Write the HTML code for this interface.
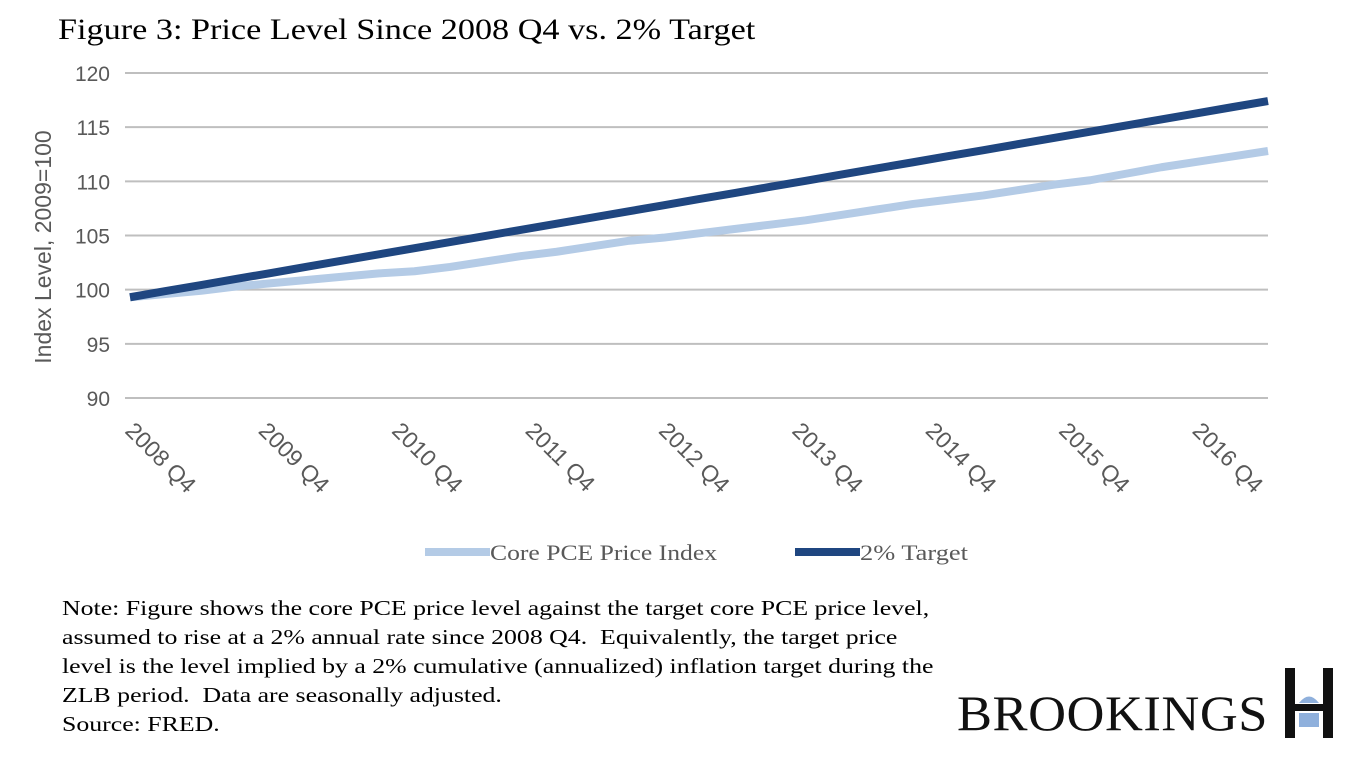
<!DOCTYPE html>
<html><head><meta charset="utf-8"><style>
body{margin:0;background:#fff;width:1371px;height:762px;overflow:hidden;position:relative}
.serif{font-family:"Liberation Serif",serif}
</style></head><body>
<div class="serif" style="position:absolute;left:58px;top:13px;font-size:30px;color:#000;transform-origin:0 0;transform:scaleX(1.14);white-space:nowrap">Figure 3: Price Level Since 2008 Q4 vs. 2% Target</div>
<svg id="chart" width="1371" height="600" style="position:absolute;left:0;top:0" font-family="Liberation Sans, sans-serif"></svg>
<div class="serif" style="position:absolute;left:62px;top:594px;font-size:21.5px;line-height:29px;color:#000;transform-origin:0 0;transform:scaleX(1.2);white-space:nowrap">Note: Figure shows the core PCE price level against the target core PCE price level,<br>assumed to rise at a 2% annual rate since 2008 Q4.&nbsp; Equivalently, the target price<br>level is the level implied by a 2% cumulative (annualized) inflation target during the<br>ZLB period.&nbsp; Data are seasonally adjusted.<br>Source: FRED.</div>
<div class="serif" style="position:absolute;left:957px;top:688px;font-size:50px;line-height:50px;color:#111;letter-spacing:0.5px;transform-origin:0 0;transform:scaleX(1.05);white-space:nowrap">BROOKINGS</div>
<svg width="60" height="80" style="position:absolute;left:1283px;top:666px">
<rect x="2" y="2" width="10" height="70" fill="#111"/><rect x="40" y="2" width="10" height="70" fill="#111"/>
<rect x="12" y="38" width="28" height="7" fill="#111"/>
<path d="M16 37 Q26 24 36 37Z" fill="#8fb0dc"/><rect x="16" y="47" width="20" height="14" fill="#8fb0dc"/>
</svg>
<script>
const yTicks=[90,95,100,105,110,115,120];
const xLabels=["2008 Q4","2009 Q4","2010 Q4","2011 Q4","2012 Q4","2013 Q4","2014 Q4","2015 Q4","2016 Q4"];
const corePCE=[99.3,99.6,99.9,100.3,100.6,100.9,101.2,101.5,101.7,102.1,102.6,103.1,103.5,104.0,104.5,104.8,105.2,105.6,106.0,106.4,106.9,107.4,107.9,108.3,108.7,109.2,109.7,110.1,110.7,111.3,111.8,112.3,112.8];
const target=[99.30,99.87,100.43,101.00,101.56,102.13,102.70,103.26,103.83,104.39,104.96,105.53,106.09,106.66,107.22,107.79,108.36,108.92,109.49,110.05,110.62,111.19,111.75,112.32,112.88,113.45,114.02,114.58,115.15,115.71,116.28,116.85,117.41];
const NS="http://www.w3.org/2000/svg",svg=document.getElementById('chart');
const X0=130,X1=1268,YT=73,YB=398;
const y=v=>YB-(v-90)/(120-90)*(YB-YT);
const x=i=>X0+i*(X1-X0)/(corePCE.length-1);
function mk(t,a,p){const e=document.createElementNS(NS,t);for(const k in a)e.setAttribute(k,a[k]);(p||svg).appendChild(e);return e;}
yTicks.forEach(v=>{
 const g=mk('line',{x1:125,x2:1268,y1:y(v),y2:y(v),stroke:'#bfbfbf','stroke-width':2});
 
 
 const t=mk('text',{x:110,y:y(v)+8,'text-anchor':'end','font-size':21,fill:'#595959'});
 t.textContent=v;
 
 
});
const yt=mk('text',{transform:'translate(51,247) rotate(-90)','text-anchor':'middle','font-size':23,fill:'#595959'});
yt.textContent='Index Level, 2009=100';


xLabels.forEach((l,k)=>{
 const px=X0+k*133.4-6;
 const t=mk('text',{transform:`translate(${px},432) rotate(45)`,'font-size':23,fill:'#595959'});
 t.textContent=l;
 
 
});
function line(arr,col,name){
 const p=mk('polyline',{points:arr.map((v,i)=>x(i)+','+y(v)).join(' '),fill:'none',stroke:col,'stroke-width':8,'stroke-linejoin':'round'});
 
 
}
line(corePCE,'#b4cbe6','core-pce-line');
line(target,'#1f4680','target-line');
const l1=mk('line',{x1:425,x2:490,y1:552,y2:552,stroke:'#b4cbe6','stroke-width':8});


const t1=mk('text',{x:490,y:560,'font-size':22,fill:'#595959','font-family':'Liberation Serif, serif','textLength':227,'lengthAdjust':'spacingAndGlyphs'});
t1.textContent='Core PCE Price Index';


const l2=mk('line',{x1:795,x2:860,y1:552,y2:552,stroke:'#1f4680','stroke-width':8});


const t2=mk('text',{x:860,y:560,'font-size':22,fill:'#595959','font-family':'Liberation Serif, serif','textLength':108,'lengthAdjust':'spacingAndGlyphs'});
t2.textContent='2% Target';


</script>
</body></html>
